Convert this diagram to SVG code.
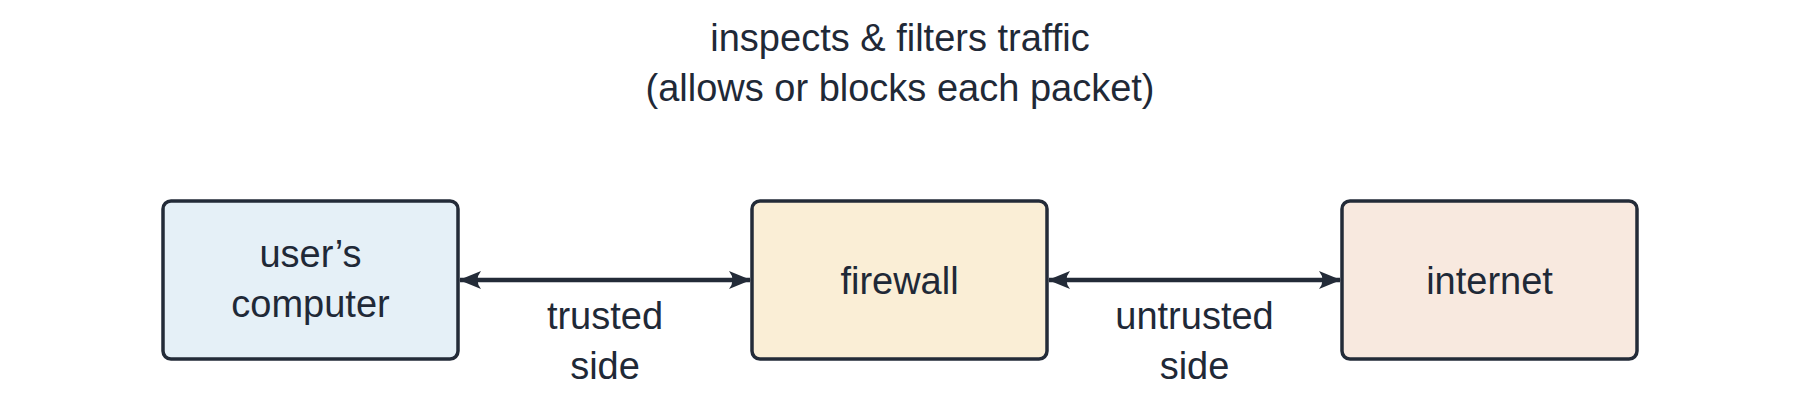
<svg xmlns="http://www.w3.org/2000/svg" width="1800" height="401" viewBox="0 0 1800 401">
<style>
.box{stroke:#232b38;stroke-width:3.5;}
.t{font-family:"Liberation Sans",Arial,sans-serif;font-size:38px;fill:#1f2937;text-anchor:middle;}
.edge{stroke:#232b38;stroke-width:4.5;fill:none;}
</style>
<defs>
<marker id="ah" viewBox="0 0 22 18" refX="21" refY="9" markerWidth="22" markerHeight="18" markerUnits="userSpaceOnUse" orient="auto-start-reverse">
<path d="M0,0 L22,9 L0,18 Q7,9 0,0 Z" fill="#232b38"/>
</marker>
</defs>
<g id="title">
<text class="t" x="900" y="51">inspects &amp; filters traffic</text>
<text class="t" x="900" y="101">(allows or blocks each packet)</text>
</g>
<g id="node-user">
<rect class="box" x="163" y="201" width="295" height="158" rx="8" fill="#e5f0f7"/>
<text class="t" x="310.5" y="267">user’s</text>
<text class="t" x="310.5" y="317">computer</text>
</g>
<g id="node-firewall">
<rect class="box" x="752" y="201" width="295" height="158" rx="8" fill="#faeed6"/>
<text class="t" x="899.5" y="294">firewall</text>
</g>
<g id="node-internet">
<rect class="box" x="1342" y="201" width="295" height="158" rx="8" fill="#f8e9df"/>
<text class="t" x="1489.5" y="294">internet</text>
</g>
<g id="connectors">
<line class="edge" x1="460" y1="280" x2="750" y2="280" marker-start="url(#ah)" marker-end="url(#ah)"/>
<line class="edge" x1="1049" y1="280" x2="1340" y2="280" marker-start="url(#ah)" marker-end="url(#ah)"/>
<text class="t" x="605" y="329">trusted</text>
<text class="t" x="605" y="379">side</text>
<text class="t" x="1194.5" y="329">untrusted</text>
<text class="t" x="1194.5" y="379">side</text>
</g>
</svg>
